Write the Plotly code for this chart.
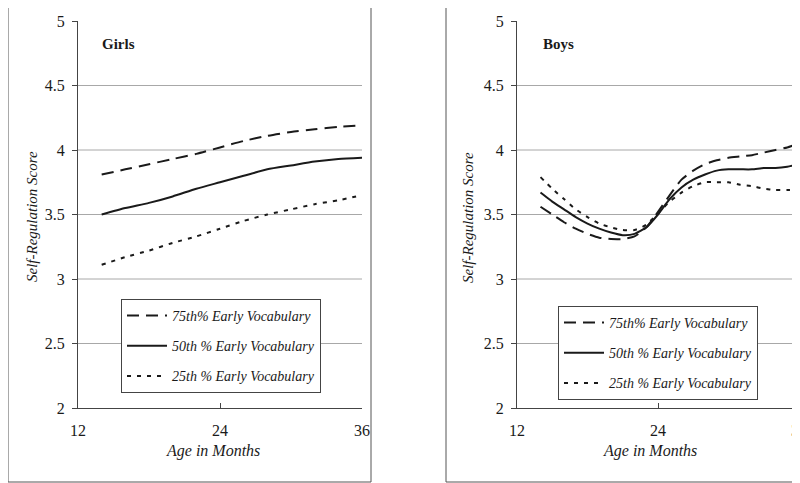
import plotly.graph_objects as go

# ---------------- data ----------------
girls_months = [14, 16, 18, 20, 22, 24, 26, 28, 30, 32, 34, 36]
girls_75 = [3.81, 3.85, 3.89, 3.93, 3.97, 4.02, 4.07, 4.11, 4.14, 4.16, 4.18, 4.19]
girls_50 = [3.50, 3.55, 3.59, 3.64, 3.70, 3.75, 3.80, 3.85, 3.88, 3.91, 3.93, 3.94]
girls_25 = [3.11, 3.17, 3.22, 3.28, 3.33, 3.39, 3.45, 3.50, 3.54, 3.58, 3.61, 3.65]

boys_months = [14, 15, 16, 17, 18, 19, 20, 21, 22, 23, 24, 25, 26, 27, 28, 29, 30,
               31, 32, 33, 34, 35, 36]
boys_75 = [3.56, 3.50, 3.44, 3.39, 3.35, 3.32, 3.31, 3.31, 3.33, 3.40, 3.52, 3.65,
           3.77, 3.84, 3.89, 3.92, 3.94, 3.95, 3.96, 3.98, 4.00, 4.02, 4.05]
boys_50 = [3.67, 3.60, 3.54, 3.48, 3.43, 3.39, 3.36, 3.34, 3.35, 3.40, 3.50, 3.62,
           3.71, 3.77, 3.81, 3.84, 3.85, 3.85, 3.85, 3.86, 3.86, 3.87, 3.89]
boys_25 = [3.79, 3.70, 3.62, 3.54, 3.48, 3.43, 3.40, 3.38, 3.38, 3.42, 3.51, 3.60,
           3.67, 3.72, 3.75, 3.75, 3.75, 3.73, 3.72, 3.70, 3.69, 3.69, 3.69]

series_names = ["75th% Early Vocabulary", "50th % Early Vocabulary", "25th % Early Vocabulary"]
x_ticks = [12, 24, 36]
grid_vals = [2.5, 3, 3.5, 4, 4.5]

# ---------------- styling ----------------
W, H = 800, 483
OFF = 8  # page body margin offset of the figure in the browser
SERIF = "Liberation Serif, Times New Roman, serif"
INK = "#1a1a1a"
AXIS = "#444444"
GRID = "#a8a8a8"
dashes = ["12px,7px", "solid", "4px,6px"]


def px(v):
    return (v - OFF) / W


def py(v):
    return 1 - (v - OFF) / H


fig = go.Figure()

panels = [
    dict(months=girls_months, vals=[girls_75, girls_50, girls_25], xa="x", ya="y", leg="legend"),
    dict(months=boys_months, vals=[boys_75, boys_50, boys_25], xa="x2", ya="y2", leg="legend2"),
]
for p in panels:
    for name, vals, dsh in zip(series_names, p["vals"], dashes):
        fig.add_trace(go.Scatter(
            x=p["months"], y=vals, name=name, mode="lines",
            line=dict(color=INK, width=2, dash=dsh, shape="spline", smoothing=0.6),
            xaxis=p["xa"], yaxis=p["ya"], legend=p["leg"], legendgroup=name,
            hoverinfo="skip",
        ))

ydom = [py(408), py(21)]
axis_common_x = dict(range=[12, 36], tickvals=x_ticks, ticks="inside", ticklen=5,
                     tickcolor=AXIS, showline=True, linecolor=AXIS, linewidth=1,
                     showgrid=False, zeroline=False, ticklabelstandoff=8,
                     tickfont=dict(family=SERIF, size=16, color=INK))
axis_common_y = dict(range=[2, 5], dtick=0.5, ticks="outside", ticklen=5,
                     tickcolor=AXIS, showline=True, linecolor=AXIS, linewidth=1,
                     showgrid=False, zeroline=False, domain=ydom, ticklabelstandoff=4,
                     tickfont=dict(family=SERIF, size=16, color=INK))

leg_common = dict(xanchor="left", yanchor="top", bgcolor="white", bordercolor=AXIS,
                  borderwidth=1, font=dict(family=SERIF, size=14, color=INK, style="italic"),
                  tracegroupgap=9, itemwidth=40, traceorder="grouped")

fig.update_layout(
    width=W, height=H,
    margin=dict(l=0, r=0, t=0, b=0, autoexpand=False),
    paper_bgcolor="white", plot_bgcolor="white",
    xaxis=dict(domain=[px(78), px(362)], anchor="y", **axis_common_x),
    yaxis=dict(anchor="x", **axis_common_y),
    xaxis2=dict(domain=[px(517), px(799)], anchor="y2", **axis_common_x),
    yaxis2=dict(anchor="x2", **axis_common_y),
    legend=dict(x=px(121), y=py(299), **leg_common),
    legend2=dict(x=px(558), y=py(306), **leg_common),
)

# grid lines at the value ticks
for ax in ["", "2"]:
    for v in grid_vals:
        fig.add_shape(type="line", xref=f"x{ax} domain", yref=f"y{ax}",
                      x0=0, x1=1, y0=v, y1=v, layer="below",
                      line=dict(color=GRID, width=1))

# panel frames
fig.add_shape(type="rect", xref="paper", yref="paper", x0=px(8), x1=px(371),
              y0=py(482), y1=py(6), line=dict(color="#555555", width=1))
fig.add_shape(type="rect", xref="paper", yref="paper", x0=px(446), x1=px(830),
              y0=py(482), y1=py(6), line=dict(color="#555555", width=1))

# texts
ann = []
for label, xl, yt, xt in [("Girls", 100, 32, 213), ("Boys", 541, 468, 650)]:
    ann.append(dict(text=f"<b>{label}</b>", x=px(xl), y=py(44), xref="paper", yref="paper",
                    xanchor="left", yanchor="middle", showarrow=False,
                    font=dict(family=SERIF, size=15, color=INK)))
    ann.append(dict(text="Self-Regulation Score", x=px(yt), y=py(217), xref="paper",
                    yref="paper", xanchor="center", yanchor="middle", textangle=-90,
                    showarrow=False,
                    font=dict(family=SERIF, size=15, color=INK, style="italic")))
    ann.append(dict(text="Age in Months", x=px(xt), y=py(451), xref="paper", yref="paper",
                    xanchor="center", yanchor="middle", showarrow=False,
                    font=dict(family=SERIF, size=16, color=INK, style="italic")))
fig.update_layout(annotations=ann)

fig.write_html("out.html")
